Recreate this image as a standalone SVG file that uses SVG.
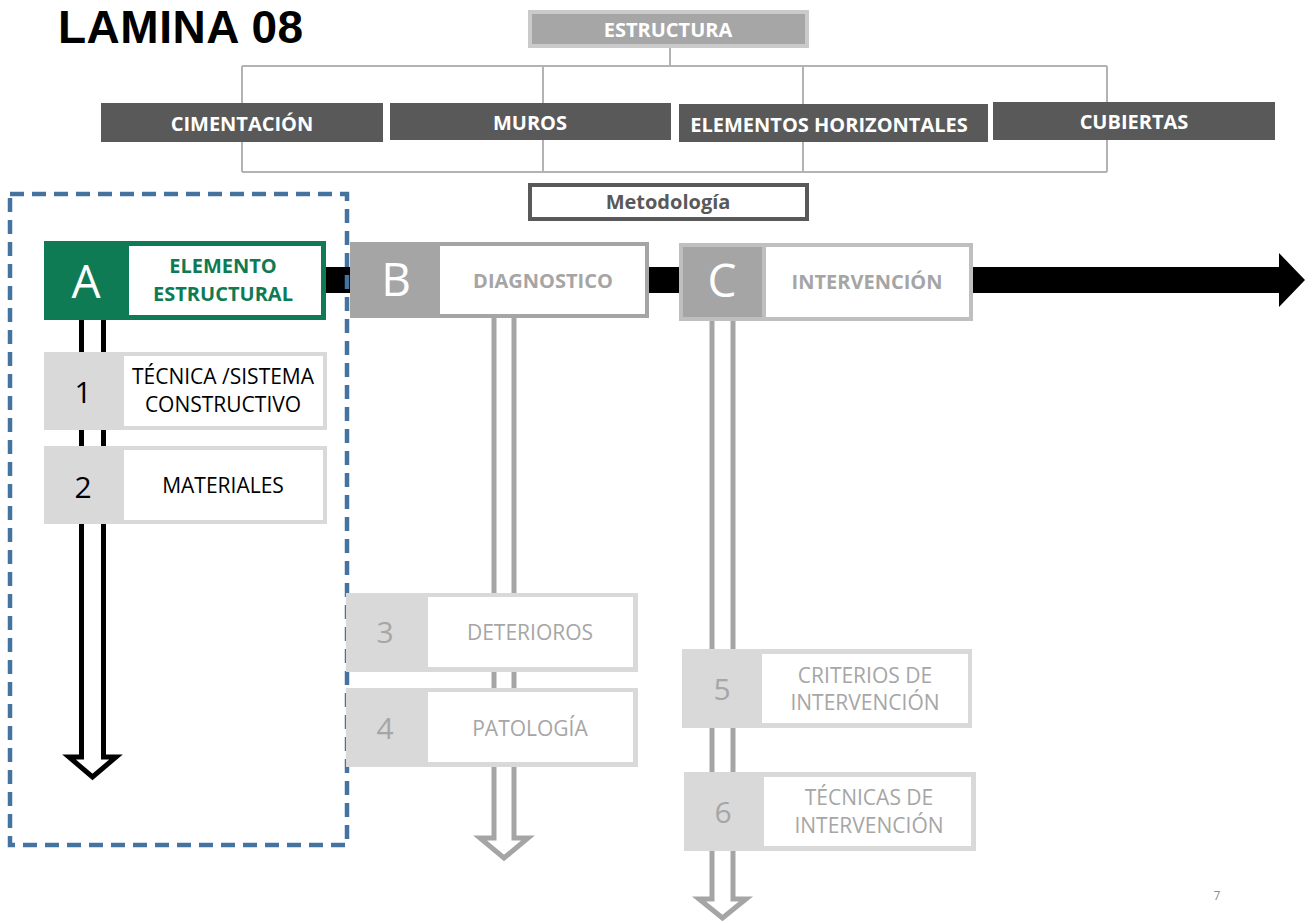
<svg xmlns="http://www.w3.org/2000/svg" width="1313" height="923" viewBox="0 0 1313 923">
<style>
.hb{font-family:"Open Sans","Liberation Sans",sans-serif;font-weight:bold;font-size:20px;text-anchor:middle}
.rg{font-family:"Open Sans","Liberation Sans",sans-serif;font-size:21px;text-anchor:middle}
.num{font-family:"Open Sans","Liberation Sans",sans-serif;font-size:30px;text-anchor:middle}
.big{font-family:"Open Sans","Liberation Sans",sans-serif;font-size:46px;fill:#fff;text-anchor:middle}
.dk{fill:#595959}
.tree{stroke:#b3b3b3;stroke-width:2;fill:none}
.hollow{stroke-width:5;fill:#fff;stroke-linejoin:miter}
</style>
<rect width="1313" height="923" fill="#fff"/>
<text x="58" y="43" font-family="Liberation Sans, Arial, sans-serif" font-weight="bold" font-size="46" letter-spacing="0.5" fill="#000">LAMINA 08</text>

<g id="connectors">
  <path class="tree" d="M670,47 V66 M242,66 H1107 M242,66 V172 M543,66 V172 M803,66 V172 M1107,66 V172 M242,172 H1107"/>
  <polygon points="320,267 1279,267 1279,253 1305,280 1279,307 1279,293 320,293" fill="#000"/>
  <path class="hollow" stroke="#000" d="M81.5,320 V757 H69 L92.5,777 L116,757 H103.5 V320"/>
  <path class="hollow" stroke="#a5a5a5" d="M494,318 V838 H480 L504,858 L528,838 H514 V318"/>
  <path class="hollow" stroke="#a5a5a5" d="M712,320 V899 H699 L722.5,918 L746,899 H733 V320"/>
</g>

<g id="estructura">
  <rect x="530" y="12" width="277" height="34" fill="#a6a6a6" stroke="#cacaca" stroke-width="4"/>
  <text class="hb" x="668" y="37" fill="#fff">ESTRUCTURA</text>
</g>
<g id="cimentacion">
  <rect x="101" y="103" width="282" height="39" class="dk"/>
  <text class="hb" x="242" y="131" fill="#fff">CIMENTACIÓN</text>
</g>
<g id="muros">
  <rect x="390" y="103" width="281" height="37" class="dk"/>
  <text class="hb" x="530" y="130" fill="#fff">MUROS</text>
</g>
<g id="elementos-horizontales">
  <rect x="679" y="104" width="309" height="38" class="dk"/>
  <text class="hb" x="829" y="132" fill="#fff">ELEMENTOS HORIZONTALES</text>
</g>
<g id="cubiertas">
  <rect x="993" y="102" width="282" height="38" class="dk"/>
  <text class="hb" x="1134" y="129" fill="#fff">CUBIERTAS</text>
</g>
<g id="metodologia">
  <rect x="530" y="185" width="277" height="34" fill="#fff" stroke="#595959" stroke-width="4"/>
  <text class="hb" x="668" y="209" fill="#595959">Metodología</text>
</g>

<g id="frame-a">
  <rect x="10" y="194" width="337" height="651" fill="none" stroke="#44739f" stroke-width="4.5" stroke-dasharray="14 8"/>
</g>

<g id="node-a">
  <rect x="44" y="241" width="282" height="79" fill="#0f7b55"/>
  <rect x="129" y="246" width="192" height="69" fill="#fff"/>
  <text class="big" x="86" y="298">A</text>
  <text class="hb" x="223" y="273" fill="#0f7b55">ELEMENTO</text>
  <text class="hb" x="223" y="301" fill="#0f7b55">ESTRUCTURAL</text>
</g>
<g id="node-b">
  <rect x="350" y="242" width="299" height="76" fill="#a5a5a5"/>
  <rect x="440" y="246" width="205" height="68" fill="#fff"/>
  <text class="big" x="396" y="296">B</text>
  <text class="hb" x="543" y="288" fill="#a5a5a5">DIAGNOSTICO</text>
</g>
<g id="node-c">
  <rect x="679" y="243" width="294" height="78" fill="#bfbfbf"/>
  <rect x="683" y="247" width="79" height="70" fill="#a5a5a5"/>
  <rect x="766" y="247" width="203" height="70" fill="#fff"/>
  <text class="big" x="722" y="297">C</text>
  <text class="hb" x="867" y="289" fill="#a5a5a5">INTERVENCIÓN</text>
</g>

<g id="box-1">
  <rect x="44" y="352" width="283" height="78" fill="#d9d9d9"/>
  <rect x="124" y="356" width="199" height="70" fill="#fff"/>
  <text class="num" x="83" y="403" fill="#000">1</text>
  <text class="rg" x="223" y="384" fill="#000">TÉCNICA /SISTEMA</text>
  <text class="rg" x="223" y="412" fill="#000">CONSTRUCTIVO</text>
</g>
<g id="box-2">
  <rect x="44" y="446" width="283" height="78" fill="#d9d9d9"/>
  <rect x="124" y="450" width="199" height="70" fill="#fff"/>
  <text class="num" x="83" y="498" fill="#000">2</text>
  <text class="rg" x="223" y="493" fill="#000">MATERIALES</text>
</g>
<g id="box-3">
  <rect x="346" y="593" width="292" height="79" fill="#d9d9d9"/>
  <rect x="428" y="597" width="205" height="70" fill="#fff"/>
  <text class="num" x="385" y="643" fill="#a6a6a6">3</text>
  <text class="rg" x="530" y="640" fill="#a6a6a6">DETERIOROS</text>
</g>
<g id="box-4">
  <rect x="346" y="688" width="292" height="79" fill="#d9d9d9"/>
  <rect x="428" y="692" width="205" height="70" fill="#fff"/>
  <text class="num" x="385" y="739" fill="#a6a6a6">4</text>
  <text class="rg" x="530" y="736" fill="#a6a6a6">PATOLOGÍA</text>
</g>
<g id="box-5">
  <rect x="682" y="649" width="290" height="79" fill="#d9d9d9"/>
  <rect x="762" y="654" width="206" height="69" fill="#fff"/>
  <text class="num" x="722" y="700" fill="#a6a6a6">5</text>
  <text class="rg" x="865" y="683" fill="#a6a6a6">CRITERIOS DE</text>
  <text class="rg" x="865" y="710" fill="#a6a6a6">INTERVENCIÓN</text>
</g>
<g id="box-6">
  <rect x="684" y="772" width="292" height="79" fill="#d9d9d9"/>
  <rect x="764" y="777" width="207" height="69" fill="#fff"/>
  <text class="num" x="723" y="823" fill="#a6a6a6">6</text>
  <text class="rg" x="869" y="805" fill="#a6a6a6">TÉCNICAS DE</text>
  <text class="rg" x="869" y="833" fill="#a6a6a6">INTERVENCIÓN</text>
</g>
<text x="1217" y="900" font-family="Open Sans, Liberation Sans, sans-serif" font-size="12" fill="#8c8c8c" text-anchor="middle">7</text>
</svg>
